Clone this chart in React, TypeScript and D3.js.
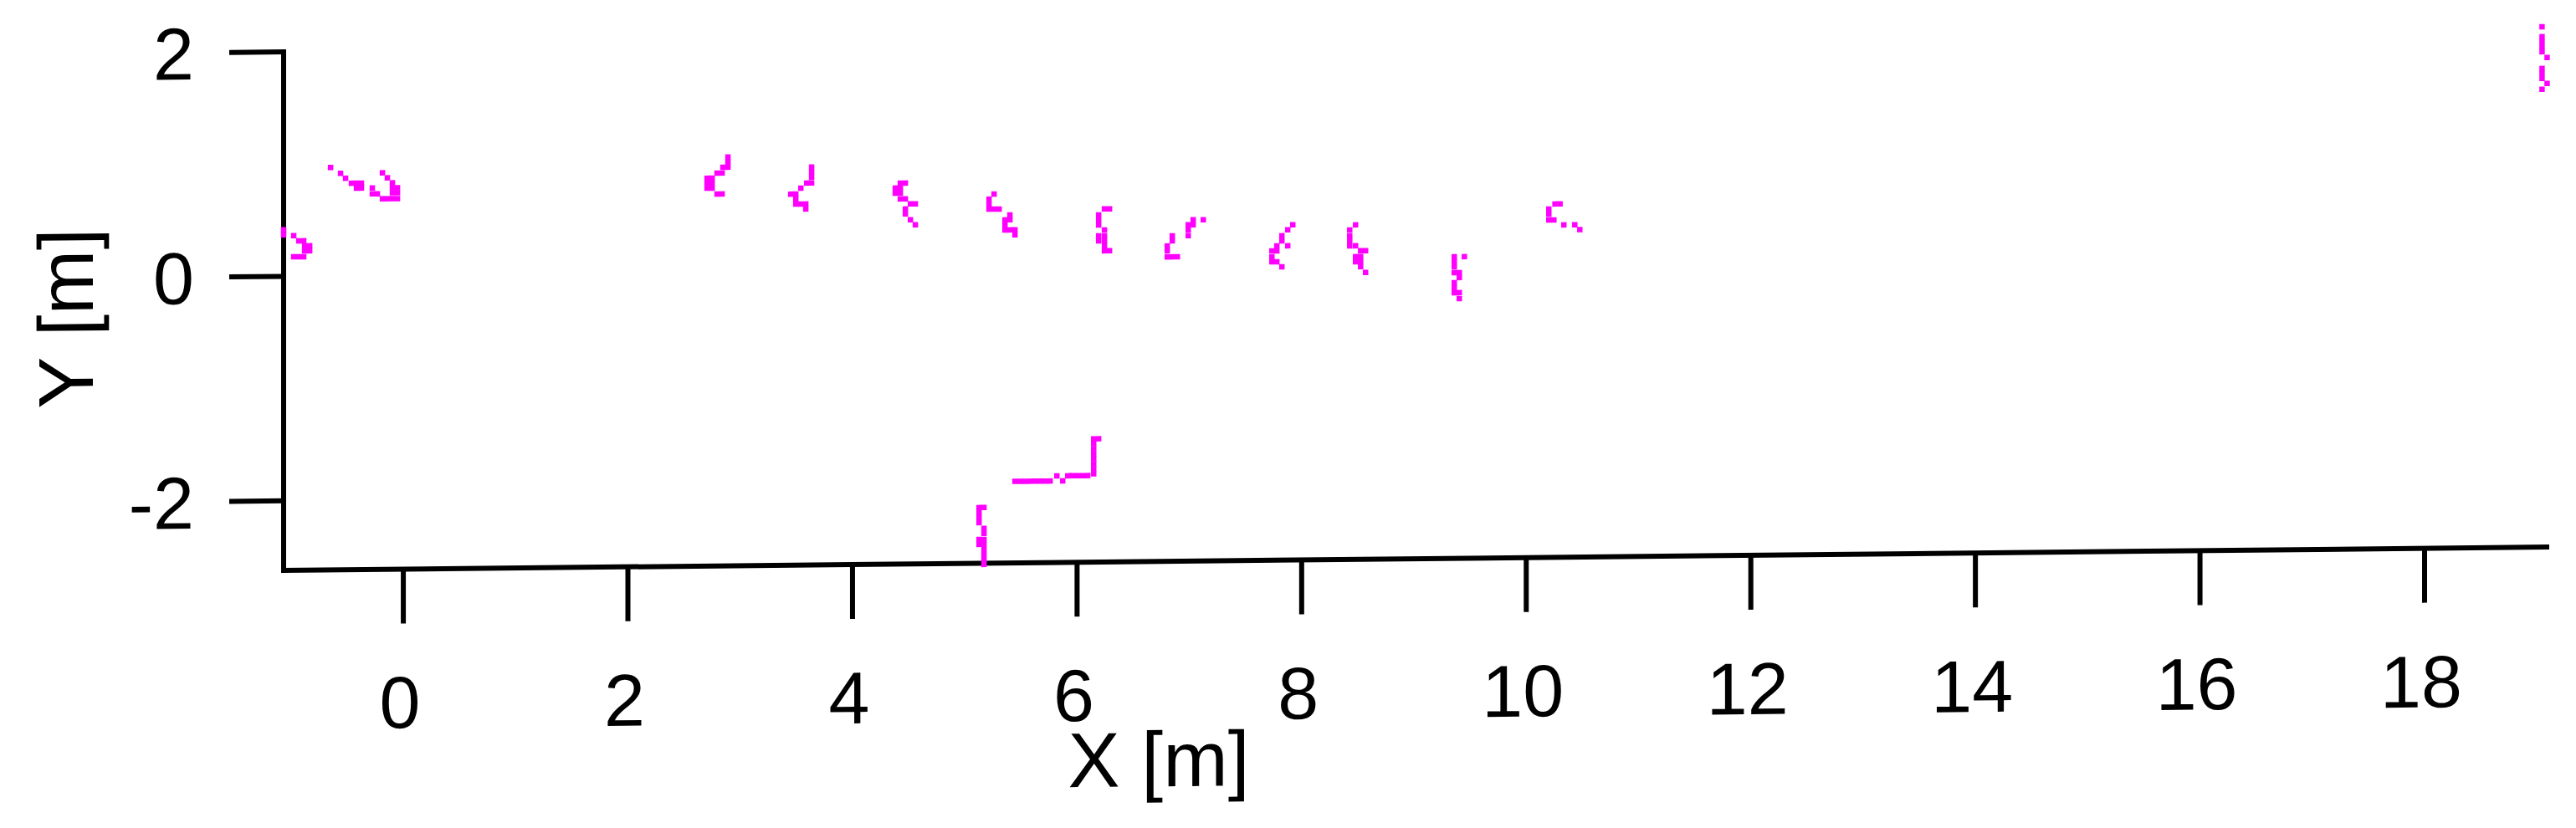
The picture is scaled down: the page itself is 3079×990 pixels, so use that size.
import React from "react";
import * as d3 from "d3";

// axis setup (metres)
const xDomain = [-1.066, 19.11];
const yDomain = [-2.62, 2.0];
const xTicks = [0, 2, 4, 6, 8, 10, 12, 14, 16, 18];
const yTicks = [-2, 0, 2];

// scan returns, [x, y] in metres, one array per object
const seg1 = [[-1.066, 0.414], [-1.066, 0.369], [-0.976, 0.361], [-0.931, 0.315], [-0.887, 0.315], [-0.879, 0.27], [-0.834, 0.27], [-0.879, 0.225], [-0.834, 0.225], [-0.976, 0.173], [-0.931, 0.173], [-0.887, 0.173]];
const seg2 = [[-0.648, 0.965], [-0.559, 0.913], [-0.514, 0.868], [-0.462, 0.823], [-0.417, 0.823], [-0.373, 0.823], [-0.417, 0.779], [-0.373, 0.779], [-0.186, 0.913], [-0.142, 0.868], [-0.097, 0.823], [-0.097, 0.779], [-0.052, 0.779], [-0.097, 0.734], [-0.052, 0.734], [-0.276, 0.779], [-0.276, 0.727], [-0.231, 0.727], [-0.186, 0.682], [-0.142, 0.682], [-0.097, 0.682], [-0.052, 0.682]];
const seg3 = [[2.891, 1.022], [2.891, 0.977], [2.846, 0.932], [2.891, 0.932], [2.794, 0.88], [2.839, 0.88], [2.705, 0.835], [2.75, 0.835], [2.705, 0.791], [2.75, 0.791], [2.705, 0.746], [2.75, 0.746], [2.794, 0.694], [2.839, 0.694]];
const seg4 = [[3.636, 0.925], [3.636, 0.88], [3.636, 0.835], [3.592, 0.783], [3.636, 0.783], [3.54, 0.738], [3.45, 0.686], [3.495, 0.686], [3.495, 0.642], [3.495, 0.597], [3.54, 0.597], [3.584, 0.597], [3.584, 0.552]];
const seg5 = [[4.426, 0.774], [4.471, 0.774], [4.381, 0.73], [4.426, 0.73], [4.381, 0.685], [4.426, 0.685], [4.426, 0.633], [4.471, 0.633], [4.516, 0.588], [4.56, 0.588], [4.471, 0.543], [4.471, 0.499], [4.516, 0.447], [4.56, 0.402]];
const seg6 = [[5.261, 0.668], [5.216, 0.623], [5.216, 0.578], [5.216, 0.534], [5.261, 0.534], [5.306, 0.534], [5.402, 0.481], [5.358, 0.437], [5.402, 0.437], [5.358, 0.392], [5.358, 0.347], [5.402, 0.347], [5.447, 0.347], [5.447, 0.303]];
const seg7 = [[6.244, 0.525], [6.289, 0.525], [6.192, 0.472], [6.192, 0.428], [6.192, 0.383], [6.244, 0.338], [6.192, 0.286], [6.244, 0.286], [6.192, 0.241], [6.244, 0.241], [6.244, 0.197], [6.244, 0.152], [6.289, 0.152]];
const seg8 = [[7.124, 0.42], [7.034, 0.42], [6.99, 0.376], [7.034, 0.376], [6.99, 0.331], [6.99, 0.279], [6.848, 0.279], [6.848, 0.234], [6.803, 0.189], [6.803, 0.145], [6.803, 0.092], [6.848, 0.092], [6.893, 0.092]];
const seg9 = [[7.921, 0.367], [7.876, 0.322], [7.824, 0.27], [7.824, 0.225], [7.876, 0.18], [7.779, 0.18], [7.735, 0.136], [7.779, 0.136], [7.735, 0.083], [7.735, 0.039], [7.779, 0.039], [7.824, -0.006]];
const seg10 = [[8.48, 0.36], [8.428, 0.315], [8.428, 0.263], [8.428, 0.218], [8.428, 0.174], [8.48, 0.174], [8.525, 0.129], [8.569, 0.129], [8.48, 0.077], [8.525, 0.077], [8.48, 0.032], [8.525, 0.032], [8.525, -0.013], [8.569, -0.065]];
const seg11 = [[9.359, 0.067], [9.359, 0.022], [9.359, -0.022], [9.359, -0.075], [9.449, 0.067], [9.404, -0.075], [9.404, -0.119], [9.359, -0.164], [9.359, -0.209], [9.359, -0.253], [9.404, -0.253], [9.404, -0.306]];
const seg12 = [[10.256, 0.528], [10.301, 0.528], [10.201, 0.483], [10.201, 0.438], [10.201, 0.386], [10.246, 0.386], [10.335, 0.341], [10.432, 0.341], [10.477, 0.297]];
const seg13 = [[19.046, 2.017], [19.046, 1.928], [19.046, 1.883], [19.046, 1.838], [19.046, 1.794], [19.091, 1.742], [19.046, 1.645], [19.046, 1.6], [19.046, 1.556], [19.091, 1.511], [19.046, 1.459]];
const seg14 = [[6.148, -1.522], [6.192, -1.522], [6.148, -1.566], [6.148, -1.611], [6.148, -1.656], [6.148, -1.7], [6.148, -1.745], [6.148, -1.79], [6.148, -1.834], [6.095, -1.849], [6.051, -1.849], [6.006, -1.849], [5.961, -1.849], [5.917, -1.849], [5.82, -1.849], [5.872, -1.894], [5.76, -1.894], [5.715, -1.894], [5.671, -1.894], [5.626, -1.894], [5.581, -1.894], [5.537, -1.894], [5.492, -1.894], [5.447, -1.894]];
const seg15 = [[5.127, -2.124], [5.171, -2.124], [5.127, -2.169], [5.127, -2.214], [5.127, -2.258], [5.171, -2.31], [5.171, -2.355], [5.127, -2.408], [5.171, -2.408], [5.127, -2.452], [5.171, -2.452], [5.171, -2.497], [5.171, -2.542], [5.171, -2.586], [5.171, -2.631]];

const segments = [seg1, seg2, seg3, seg4, seg5, seg6, seg7, seg8, seg9, seg10, seg11, seg12, seg13, seg14, seg15];

export default function App() {
  const width = 3079,
    height = 990;
  const lw = 6;
  const tickLen = 65;
  const font = "'Liberation Sans', Arial, sans-serif";

  const x = d3.scaleLinear().domain(xDomain).range([339, 3047]);
  const y = d3.scaleLinear().domain(yDomain).range([682, 62]);

  const x0 = x(xDomain[0]);
  const yb = y(yDomain[0]);
  const ms = 6.5;

  // the picture is sheared a little (x axis climbs to the right)
  const shear = `translate(${x0} 0) skewY(-0.59) translate(${-x0} 0)`;

  return (
    <svg
      width={width}
      height={height}
      style={{ position: "absolute", left: 0, top: 0, background: "#fff" }}
    >
      <rect width={width} height={height} fill="#fff" />
      <g transform={shear}>
        {/* axes */}
        <line x1={x0} x2={x0} y1={y(yDomain[1]) - 3} y2={yb + lw / 2} stroke="#000" strokeWidth={lw} />
        <line x1={x0 - lw / 2} x2={x(xDomain[1])} y1={yb} y2={yb} stroke="#000" strokeWidth={lw} />

        {xTicks.map((t) => (
          <g key={"xt" + t}>
            <line x1={x(t)} x2={x(t)} y1={yb} y2={yb + tickLen} stroke="#000" strokeWidth={lw} />
            <text
              x={x(t) - 4}
              y={yb + 190}
              textAnchor="middle"
              fontFamily={font}
              fontSize={88}
              fill="#000"
            >
              {t}
            </text>
          </g>
        ))}

        {yTicks.map((t) => (
          <g key={"yt" + t}>
            <line x1={x0 - tickLen} x2={x0} y1={y(t)} y2={y(t)} stroke="#000" strokeWidth={lw} />
            <text
              x={232}
              y={y(t) + 32}
              textAnchor="end"
              fontFamily={font}
              fontSize={88}
              fill="#000"
            >
              {t}
            </text>
          </g>
        ))}

        <text x={1385} y={951} textAnchor="middle" fontFamily={font} fontSize={93} fill="#000">
          X [m]
        </text>
        <text
          transform={`translate(111 ${378}) rotate(-90)`}
          textAnchor="middle"
          fontFamily={font}
          fontSize={93}
          fill="#000"
        >
          Y [m]
        </text>

        {/* scan points */}
        {segments.map((seg, i) => (
          <g key={"s" + i} fill="#ff00ff">
            {seg.map((p, j) => (
              <rect key={j} x={x(p[0]) - ms / 2} y={y(p[1]) - ms / 2} width={ms} height={ms} />
            ))}
          </g>
        ))}
      </g>
    </svg>
  );
}
